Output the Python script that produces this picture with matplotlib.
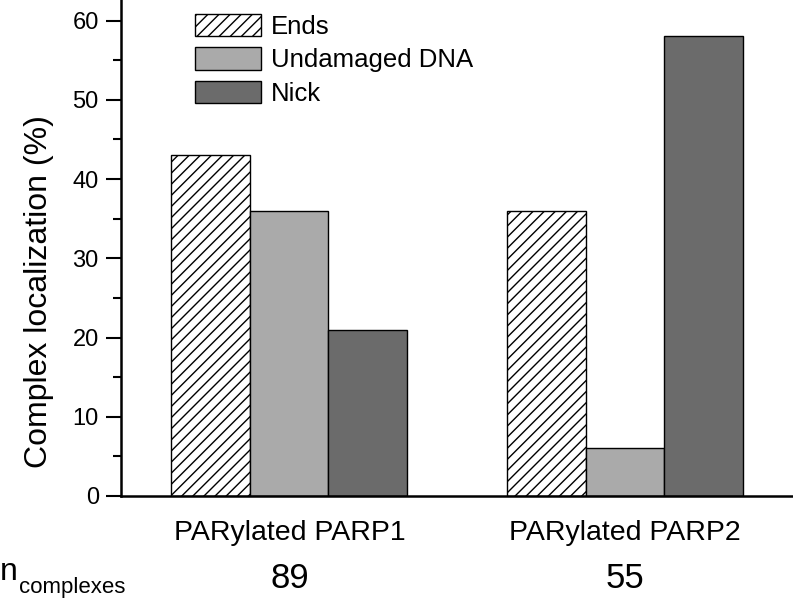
import numpy as np
import matplotlib.pyplot as plt
from matplotlib.ticker import MultipleLocator

plt.rcParams['font.family'] = ['Liberation Sans', 'DejaVu Sans']
plt.rcParams['hatch.linewidth'] = 1.0

# donnees
groupes = ['PARylated PARP1', 'PARylated PARP2']
n_complexes = ['89', '55']
series = ['Ends', 'Undamaged DNA', 'Nick']
ends = [43, 36]
undamaged = [36, 6]
nick = [21, 58]

W, H = 793, 603
fig = plt.figure(figsize=(W / 100, H / 100), dpi=100)
ax = fig.add_axes([121/W, 107/H, 672/W, 496/H])

x = np.arange(len(groupes))
w = 0.234
ax.bar(x - w, ends, w, color='white', edgecolor='black', hatch='///', linewidth=1.0, label=series[0])
ax.bar(x, undamaged, w, color='#aaaaaa', edgecolor='black', linewidth=1.0, label=series[1])
ax.bar(x + w, nick, w, color='#6b6b6b', edgecolor='black', linewidth=1.0, label=series[2])

ax.set_xlim(-0.5, 1.5)
ax.set_ylim(0, 62.6)
ax.spines['top'].set_visible(False)
ax.spines['right'].set_visible(False)
ax.spines['left'].set_linewidth(1.8)
ax.spines['bottom'].set_linewidth(1.8)

ax.yaxis.set_major_locator(MultipleLocator(10))
ax.yaxis.set_minor_locator(MultipleLocator(5))
ax.tick_params(axis='y', which='major', length=11, width=1.5, labelsize=17, pad=5)
ax.tick_params(axis='y', which='minor', length=6, width=1.5)
ax.set_xticks([])

ax.set_ylabel('Complex localization (%)', fontsize=23)
ax.yaxis.set_label_coords(-0.1, 0.413)

# etiquettes des groupes et ligne n_complexes
for xi, g, n in zip(x, groupes, n_complexes):
    cx = (289.5 + 335 * xi) / W
    fig.text(cx, 1 - 540/H, g, fontsize=20.5, ha='center', va='baseline')
    fig.text(cx, 1 - 588/H, n, fontsize=25, ha='center', va='baseline')
fig.text(0, 1 - 580/H, 'n', fontsize=23, ha='left', va='baseline')
fig.text(19/W, 1 - 593/H, 'complexes', fontsize=16, ha='left', va='baseline')

ax.legend(loc='upper left', bbox_to_anchor=(195/W, 1 - 14/H), bbox_transform=fig.transFigure,
          frameon=False, fontsize=18.5, handlelength=2.55, handleheight=0.95,
          labelspacing=0.33, handletextpad=0.4, borderpad=0, borderaxespad=0)

fig.savefig('out.png', dpi=100)
